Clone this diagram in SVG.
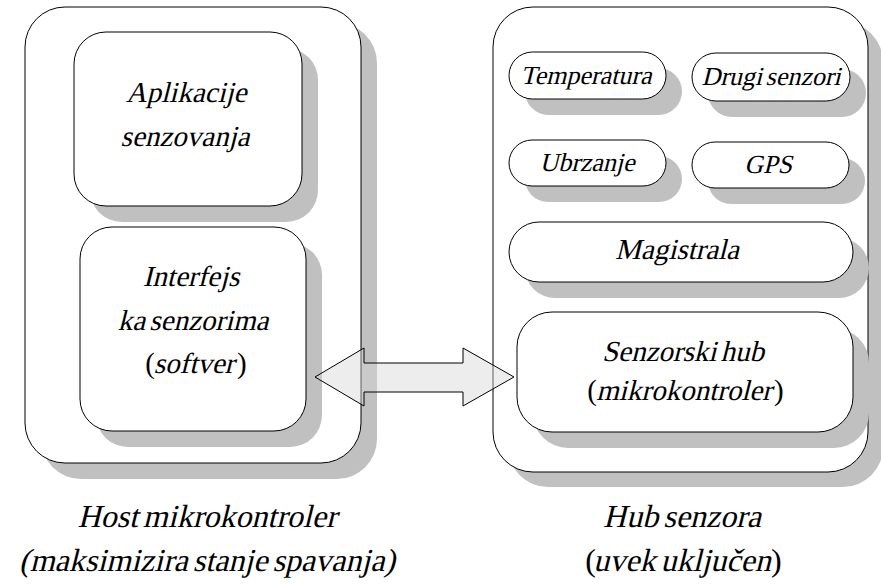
<svg xmlns="http://www.w3.org/2000/svg" width="881" height="584" viewBox="0 0 881 584">
  <style>
    .shadow { fill: #c0c0c0; stroke: none; }
    .box { fill: #ffffff; stroke: #000000; stroke-width: 1; }
    text { font-family: "Liberation Serif", "Times New Roman", serif; font-style: normal; fill: #000000; text-anchor: middle; word-spacing: -3px; }
    .s26 { font-size: 26px; }
    .s29 { font-size: 29px; }
    .s32 { font-size: 32px; }
    .l { text-anchor: end; }
    .r { text-anchor: start; }
    .link { fill: #d8d8d8; fill-opacity: 0.45; stroke: #000000; stroke-width: 1; }
  </style>

  <!-- Host side: italic look is made by slanting the upright serif face -->
  <g id="host">
    <rect class="shadow" x="41" y="23" width="336" height="456" rx="40"/>
    <rect class="box" x="25" y="7" width="336" height="456" rx="40"/>
  </g>
  <g id="aplikacije">
    <rect class="shadow" x="90" y="48" width="228" height="174" rx="32"/>
    <rect class="box" x="74" y="32" width="228" height="174" rx="32"/>
    <text class="s29" transform="translate(186,102) skewX(-14)">Aplikacije</text>
    <text class="s29" transform="translate(185,146) skewX(-14)">senzovanja</text>
  </g>
  <g id="interfejs">
    <rect class="shadow" x="96" y="243" width="226" height="204" rx="32"/>
    <rect class="box" x="80" y="227" width="226" height="204" rx="32"/>
    <text class="s29" transform="translate(191,286) skewX(-14)">Interfejs</text>
    <text class="s29" transform="translate(193,330) skewX(-14)">ka senzorima</text>
    <text class="s29 l" x="155" y="373">(</text>
    <text class="s29" transform="translate(194,373) skewX(-14)">softver</text>
    <text class="s29 r" x="237" y="373">)</text>
  </g>

  <!-- Sensor hub side -->
  <g id="hub">
    <rect class="shadow" x="508" y="22" width="375" height="465" rx="40"/>
    <rect class="box" x="493" y="7" width="375" height="465" rx="40"/>
  </g>
  <g id="temperatura">
    <rect class="shadow" x="525" y="68" width="157" height="47" rx="23.5"/>
    <rect class="box" x="509" y="52" width="157" height="47" rx="23.5"/>
    <text class="s26" transform="translate(586,84) skewX(-14)">Temperatura</text>
  </g>
  <g id="drugi-senzori">
    <rect class="shadow" x="708" y="69" width="158" height="48" rx="24"/>
    <rect class="box" x="692" y="53" width="158" height="48" rx="24"/>
    <text class="s26" transform="translate(771,85) skewX(-14)">Drugi senzori</text>
  </g>
  <g id="ubrzanje">
    <rect class="shadow" x="525" y="156" width="157" height="46" rx="23"/>
    <rect class="box" x="509" y="140" width="157" height="46" rx="23"/>
    <text class="s26" transform="translate(587,171) skewX(-14)">Ubrzanje</text>
  </g>
  <g id="gps">
    <rect class="shadow" x="708" y="158" width="157" height="46" rx="23"/>
    <rect class="box" x="692" y="142" width="157" height="46" rx="23"/>
    <text class="s26" transform="translate(768,173) skewX(-14)">GPS</text>
  </g>
  <g id="magistrala">
    <rect class="shadow" x="525" y="238" width="344" height="60" rx="30"/>
    <rect class="box" x="509" y="222" width="344" height="60" rx="30"/>
    <text class="s29" transform="translate(677,259) skewX(-14)">Magistrala</text>
  </g>
  <g id="senzorski-hub">
    <rect class="shadow" x="533" y="328" width="336" height="120" rx="35"/>
    <rect class="box" x="517" y="312" width="336" height="120" rx="35"/>
    <text class="s29" transform="translate(683,361) skewX(-14)">Senzorski hub</text>
    <text class="s29 l" x="597" y="400">(</text>
    <text class="s29" transform="translate(684,400) skewX(-14)">mikrokontroler</text>
    <text class="s29 r" x="774" y="400">)</text>
  </g>

  <!-- Captions -->
  <g id="host-caption">
    <text class="s32" transform="translate(207,527) skewX(-14)">Host mikrokontroler</text>
    <text class="s32" transform="translate(207,571) skewX(-14)">(maksimizira stanje spavanja)</text>
  </g>
  <g id="hub-caption">
    <text class="s32" transform="translate(682,527) skewX(-14)">Hub senzora</text>
    <text class="s32 l" x="596" y="571">(</text>
    <text class="s32" transform="translate(682,571) skewX(-14)">uvek uključen</text>
    <text class="s32 r" x="771" y="571">)</text>
  </g>

  <!-- Connectors -->
  <g id="connectors">
    <polygon class="link" points="315,377 364,348 364,363 463,363 463,348 514,377 463,406 463,392 364,392 364,406"/>
  </g>
</svg>
